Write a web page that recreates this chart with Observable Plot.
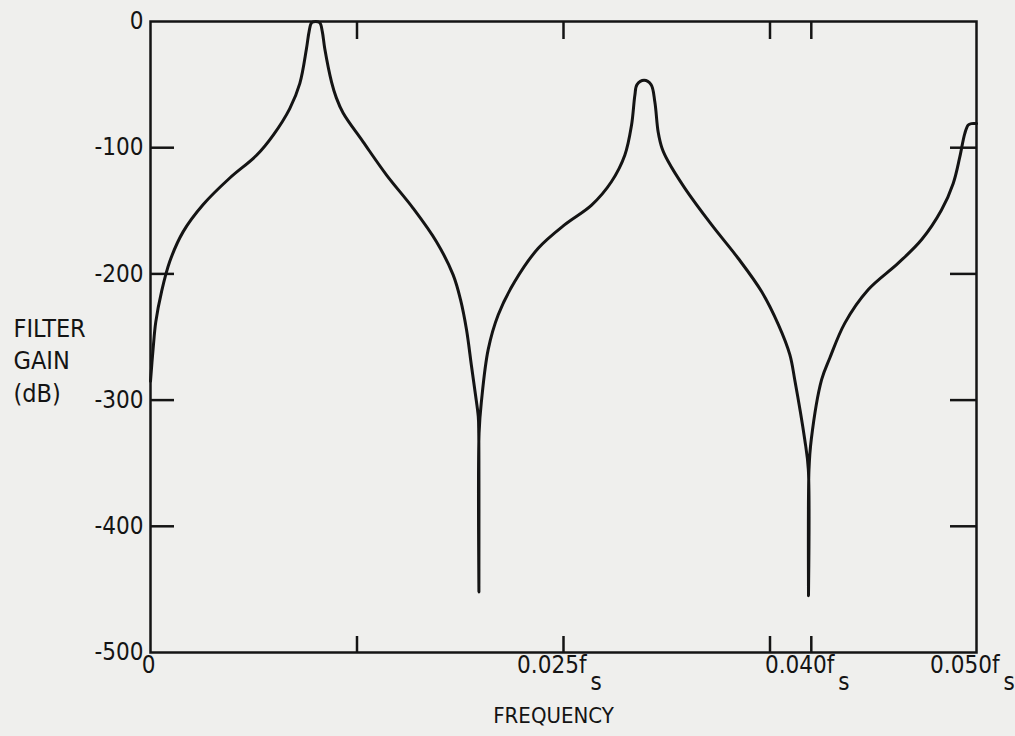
<!DOCTYPE html>
<html><head><meta charset="utf-8">
<script src="https://cdn.jsdelivr.net/npm/d3@7"></script>
<script src="https://cdn.jsdelivr.net/npm/@observablehq/plot@0.6"></script>
<style>
html,body{margin:0;padding:0;background:#efefed;}
#chart svg{display:block;}
</style></head><body><div id="chart"></div>
<script>
// Frequency (in units of 0.001 fs) and filter gain (dB)
const freqMilli = [0, 0.16, 0.32, 0.67, 1.17, 1.98, 3.19, 4.8, 6.42, 7.43, 8.43, 9.04, 9.44, 9.6, 9.75, 10.0, 10.25, 10.4, 10.55, 10.96, 11.25, 11.66, 12.87, 14.29, 15.9, 17.31, 18.32, 18.77, 19.13, 19.43, 19.67, 19.84, 19.87, 19.88, 19.89, 20.04, 20.44, 21.05, 22.05, 23.47, 25.08, 26.7, 27.9, 28.71, 29.12, 29.32, 29.45, 29.88, 30.3, 30.53, 30.73, 30.97, 31.34, 32.34, 33.96, 35.57, 36.99, 38.0, 38.7, 39.0, 39.6, 39.82, 39.83, 39.86, 40.0, 40.62, 41.12, 42.03, 43.44, 45.26, 46.67, 47.88, 48.59, 48.99, 49.29, 49.5, 49.7, 50.0];
const gainDb = [-285, -259, -238, -214, -190, -166.5, -145, -124, -106, -90, -69, -49, -21.6, -8, -1, 0, -1, -8, -21.6, -48, -60.5, -72.5, -95.4, -121.7, -148, -174.5, -200.8, -220.6, -244.3, -273, -295.6, -313, -326, -452, -326, -300, -260, -232.4, -206, -179.7, -161, -145.5, -127, -106, -82, -58.5, -50, -46.6, -50, -63.8, -87.5, -100.6, -111, -132, -161, -187.6, -214, -240, -264, -284, -331, -355, -455, -355, -331, -284, -266.6, -239, -212.6, -191.5, -173, -149.4, -128.3, -107.3, -88.8, -82, -80.9, -80.9];

const yTickLabels = [0, -100, -200, -300, -400, -500];
const yInnerTicks = [-100, -200, -300, -400];
const xInnerTicks = [0.0125, 0.025, 0.0375, 0.040];
const xLabelValues = [0.025, 0.040, 0.050];
const xLabelTexts = ["0.025f", "0.040f", "0.050f"];
const xSubscript = "s";
const xZeroLabel = "0";
const yTitle = "FILTER\nGAIN\n(dB)";
const xTitle = "FREQUENCY";

const data = freqMilli.map((f, i) => ({f: f / 1000, g: gainDb[i]}));
const xLabels = xLabelValues.map((v, i) => ({v, t: xLabelTexts[i]}));

const W = 1015, H = 736, mL = 150, mR = 39, mT = 21, mB = 84;
const fw = W - mL - mR, fh = H - mT - mB;
const ink = "#141414";
const font = "'DejaVu Sans Condensed', 'DejaVu Sans', sans-serif";

const chart = Plot.plot({
  width: W, height: H,
  marginLeft: mL, marginRight: mR, marginTop: mT, marginBottom: mB,
  style: {background: "#efefed", color: ink, fontFamily: font},
  x: {domain: [0, 0.05], axis: null},
  y: {domain: [-500, 0], axis: null},
  marks: [
    Plot.frame({stroke: ink, strokeWidth: 2.5}),
    Plot.ruleY(yInnerTicks, {y: d => d, insetRight: fw - 24, stroke: ink, strokeWidth: 2.5}),
    Plot.ruleY(yInnerTicks, {y: d => d, insetLeft: fw - 26, stroke: ink, strokeWidth: 2.5}),
    Plot.ruleX(xInnerTicks, {x: d => d, insetBottom: fh - 18, stroke: ink, strokeWidth: 2.5}),
    Plot.ruleX(xInnerTicks, {x: d => d, insetTop: fh - 16, stroke: ink, strokeWidth: 2.5}),
    Plot.line(data, {x: "f", y: "g", stroke: ink, strokeWidth: 3, curve: "catmull-rom"}),
    Plot.text(yTickLabels, {y: d => d, text: d => String(d), frameAnchor: "left", textAnchor: "end", dx: -7, fontSize: 24, fill: ink}),
    Plot.text([0], {x: d => d, text: () => xZeroLabel, frameAnchor: "bottom", dy: 20, dx: -2, fontSize: 24, fill: ink}),
    Plot.text(xLabels, {x: "v", text: "t", frameAnchor: "bottom", textAnchor: "end", dy: 20, dx: 23, fontSize: 24, fill: ink}),
    Plot.text(xLabels, {x: "v", text: () => xSubscript, frameAnchor: "bottom", textAnchor: "start", dy: 37, dx: 27, fontSize: 24, fill: ink}),
    Plot.text([xTitle], {text: d => d, frameAnchor: "bottom", dy: 70, dx: -10, fontSize: 22, fill: ink}),
    Plot.text([yTitle], {text: d => d, frameAnchor: "left", textAnchor: "start", dx: -137, dy: 22, fontSize: 25, lineHeight: 1.3, fill: ink})
  ]
});
document.getElementById("chart").appendChild(chart);
</script></body></html>
